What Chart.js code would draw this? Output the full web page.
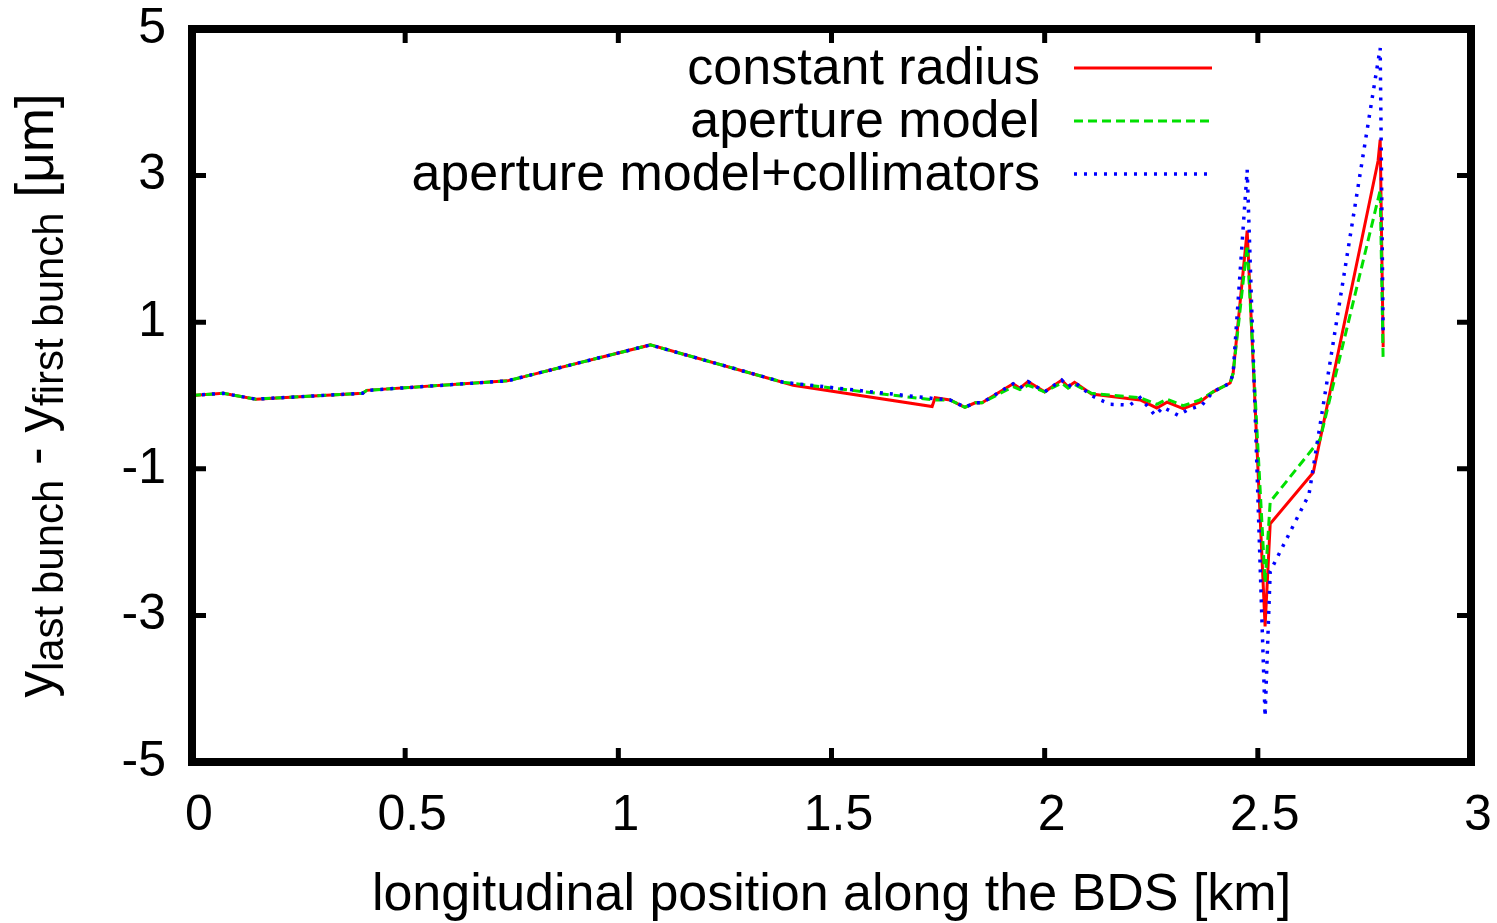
<!DOCTYPE html>
<html><head><meta charset="utf-8">
<script src="https://cdn.jsdelivr.net/npm/chart.js@4.4.0/dist/chart.umd.min.js"></script>
<style>html,body{margin:0;padding:0;background:#fff;overflow:hidden}#wrap{width:1497px;height:923px}</style>
</head><body><div id="wrap"><canvas id="c" width="1497" height="923"></canvas></div>
<script>
// ---- data (km, µm) ----
const seriesNames = ["constant radius", "aperture model", "aperture model+collimators"];
const xTickValues = [0, 0.5, 1, 1.5, 2, 2.5, 3];
const yTickValues = [-5, -3, -1, 1, 3, 5];

const redX = [0, 0.073, 0.15, 0.21, 0.40, 0.41, 0.74, 1.075, 1.41, 1.736, 1.743, 1.778, 1.813, 1.837, 1.853, 1.926, 1.942, 1.961, 2.0, 2.04, 2.055, 2.07, 2.11, 2.224, 2.263, 2.287, 2.325, 2.364, 2.395, 2.435, 2.442, 2.475, 2.517, 2.529, 2.63, 2.782, 2.787, 2.794];
const redY = [0.0, 0.03, -0.05, -0.03, 0.03, 0.07, 0.2, 0.69, 0.14, -0.15, -0.03, -0.06, -0.16, -0.1, -0.1, 0.16, 0.1, 0.19, 0.05, 0.21, 0.12, 0.18, 0.02, -0.06, -0.17, -0.09, -0.18, -0.09, 0.05, 0.17, 0.3, 2.25, -3.15, -1.75, -1.05, 3.2, 3.49, 0.66];

const greenX = [0, 0.073, 0.15, 0.21, 0.40, 0.41, 0.74, 1.075, 1.387, 1.738, 1.778, 1.813, 1.837, 1.853, 1.926, 1.942, 1.961, 2.0, 2.04, 2.055, 2.07, 2.11, 2.224, 2.263, 2.287, 2.325, 2.364, 2.395, 2.435, 2.442, 2.475, 2.517, 2.529, 2.646, 2.787, 2.794];
const greenY = [0.0, 0.03, -0.05, -0.03, 0.03, 0.07, 0.2, 0.69, 0.18, -0.06, -0.06, -0.16, -0.1, -0.1, 0.12, 0.08, 0.14, 0.05, 0.17, 0.1, 0.15, 0.03, -0.03, -0.12, -0.05, -0.14, -0.06, 0.05, 0.17, 0.3, 2.05, -2.55, -1.45, -0.6, 2.8, 0.46];

const blueX = [0, 0.073, 0.15, 0.21, 0.40, 0.41, 0.74, 1.075, 1.387, 1.738, 1.778, 1.813, 1.837, 1.853, 1.926, 1.942, 1.961, 2.0, 2.04, 2.055, 2.07, 2.11, 2.13, 2.154, 2.2, 2.224, 2.259, 2.278, 2.313, 2.334, 2.369, 2.395, 2.435, 2.442, 2.475, 2.517, 2.529, 2.62, 2.787, 2.794];
const blueY = [0.0, 0.03, -0.05, -0.03, 0.03, 0.07, 0.2, 0.69, 0.18, -0.04, -0.06, -0.16, -0.1, -0.1, 0.16, 0.1, 0.19, 0.05, 0.21, 0.12, 0.18, 0.0, -0.06, -0.12, -0.13, -0.03, -0.27, -0.16, -0.27, -0.2, -0.13, 0.05, 0.17, 0.3, 3.08, -4.38, -2.4, -1.35, 4.74, 0.8];

const FONT = "'Liberation Sans', Arial, Helvetica, sans-serif";
const pts = (xs, ys) => xs.map((x, i) => ({x, y: ys[i]}));

const framePlugin = {
  id: 'frame',
  afterDatasetsDraw(chart) {
    const {ctx, chartArea: a, scales} = chart;
    ctx.save();
    ctx.strokeStyle = '#000';
    ctx.lineWidth = 5;
    const L = 14;
    ctx.beginPath();
    xTickValues.forEach(v => {
      const p = scales.x.getPixelForValue(v);
      ctx.moveTo(p, a.bottom); ctx.lineTo(p, a.bottom - L);
      ctx.moveTo(p, a.top); ctx.lineTo(p, a.top + L);
    });
    yTickValues.forEach(v => {
      const p = scales.y.getPixelForValue(v);
      ctx.moveTo(a.left, p); ctx.lineTo(a.left + L, p);
      ctx.moveTo(a.right, p); ctx.lineTo(a.right - L, p);
    });
    ctx.stroke();
    ctx.lineWidth = 8;
    ctx.strokeRect(a.left, a.top, a.right - a.left, a.bottom - a.top);
    ctx.restore();
  }
};

const legendPlugin = {
  id: 'customLegend',
  afterDraw(chart) {
    const ctx = chart.ctx;
    const rows = [68, 121, 174];
    ctx.save();
    ctx.font = "52px " + FONT;
    ctx.textAlign = 'right';
    ctx.textBaseline = 'middle';
    chart.data.datasets.forEach((ds, i) => {
      ctx.fillStyle = '#000';
      ctx.fillText(ds.label, 1040, rows[i] + 2);
      ctx.strokeStyle = ds.borderColor;
      ctx.lineWidth = ds.borderWidth;
      ctx.setLineDash(ds.borderDash || []);
      ctx.beginPath();
      ctx.moveTo(1074, rows[i]); ctx.lineTo(1212, rows[i]);
      ctx.stroke();
    });
    ctx.restore();
  }
};

const yTitlePlugin = {
  id: 'yTitle',
  afterDraw(chart) {
    const ctx = chart.ctx;
    const segs = [
      {t: 'y', sub: false}, {t: 'last bunch', sub: true},
      {t: ' - y', sub: false}, {t: 'first bunch', sub: true},
      {t: ' [\u03bcm]', sub: false}
    ];
    const main = "53px " + FONT, small = "42px " + FONT;
    ctx.save();
    let total = 0;
    segs.forEach(s => { ctx.font = s.sub ? small : main; s.w = ctx.measureText(s.t).width; total += s.w; });
    ctx.translate(53, chart.chartArea.top + (chart.chartArea.bottom - chart.chartArea.top) / 2);
    ctx.rotate(-Math.PI / 2);
    ctx.fillStyle = '#000';
    ctx.textBaseline = 'alphabetic';
    ctx.textAlign = 'left';
    let x = -total / 2;
    segs.forEach(s => {
      ctx.font = s.sub ? small : main;
      ctx.fillText(s.t, x, s.sub ? 10 : 0);
      x += s.w;
    });
    ctx.restore();
  }
};

new Chart(document.getElementById('c'), {
  type: 'line',
  data: {
    datasets: [
      {label: seriesNames[0], data: pts(redX, redY), borderColor: '#ff0000', borderWidth: 3, pointRadius: 0, fill: false, tension: 0, order: 3},
      {label: seriesNames[1], data: pts(greenX, greenY), borderColor: '#00e000', borderWidth: 3, borderDash: [9, 5], pointRadius: 0, fill: false, tension: 0, order: 2},
      {label: seriesNames[2], data: pts(blueX, blueY), borderColor: '#0000ff', borderWidth: 3.5, borderDash: [3, 7], pointRadius: 0, fill: false, tension: 0, order: 1}
    ]
  },
  options: {
    responsive: false,
    animation: false,
    devicePixelRatio: 1,
    layout: {padding: {top: 29, right: 26, left: 0, bottom: 0}},
    plugins: {legend: {display: false}, tooltip: {enabled: false}},
    scales: {
      x: {
        type: 'linear', min: 0, max: 3,
        afterBuildTicks: s => { s.ticks = xTickValues.map(v => ({value: v})); },
        ticks: {font: {size: 50, family: FONT}, color: '#000', padding: 24, maxRotation: 0, autoSkip: false,
                labelOffset: 7, callback: v => String(v)},
        grid: {display: false, drawTicks: false},
        border: {display: false},
        title: {display: true, text: 'longitudinal position along the BDS [km]', color: '#000',
                font: {size: 52, family: FONT, lineHeight: 1.0}, padding: {top: 0, bottom: 1}},
        afterFit: s => { s.height = 161; s.paddingLeft = 0; s.paddingRight = 0; }
      },
      y: {
        type: 'linear', min: -5, max: 5,
        afterBuildTicks: s => { s.ticks = yTickValues.map(v => ({value: v})); },
        ticks: {font: {size: 50, family: FONT}, color: '#000', padding: 26, autoSkip: false,
                callback: v => String(v)},
        grid: {display: false, drawTicks: false},
        border: {display: false},
        afterFit: s => { s.width = 192; s.paddingTop = 0; s.paddingBottom = 0; }
      }
    }
  },
  plugins: [framePlugin, legendPlugin, yTitlePlugin]
});
</script>
</body></html>
